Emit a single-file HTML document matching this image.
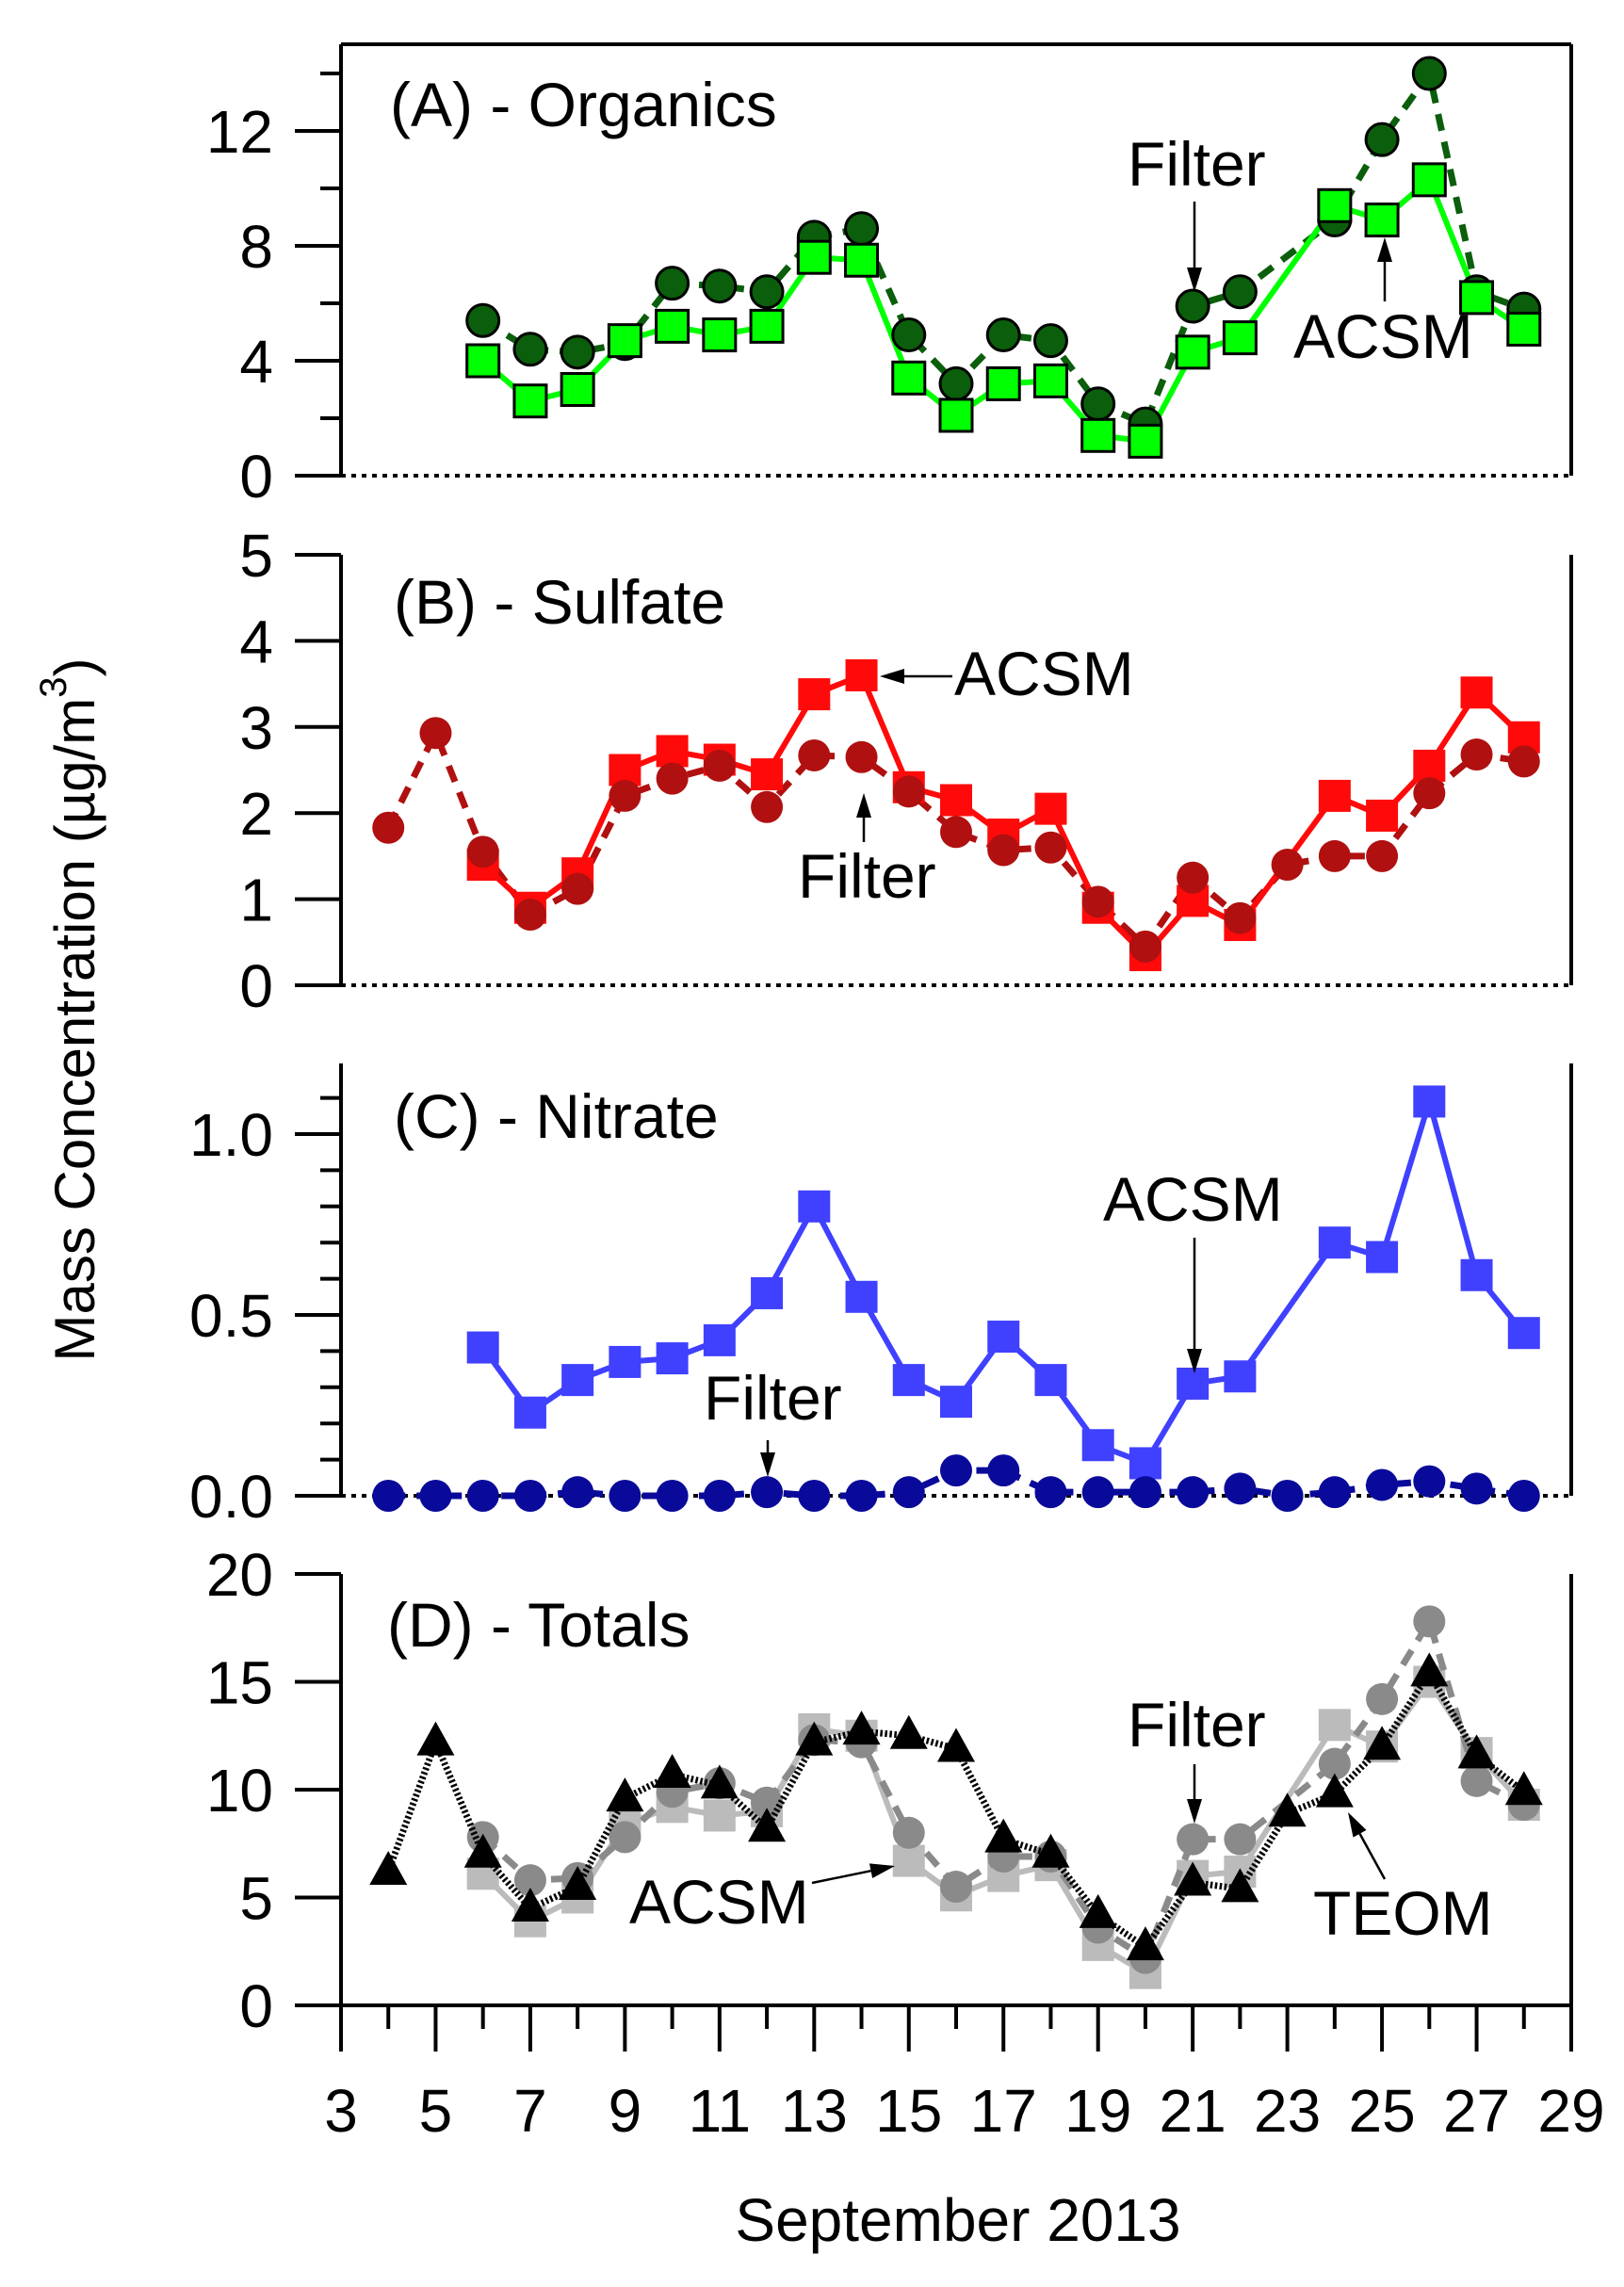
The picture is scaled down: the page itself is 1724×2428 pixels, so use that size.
<!DOCTYPE html>
<html><head><meta charset="utf-8"><style>
html,body{margin:0;padding:0;background:#fff;}
svg{display:block;font-family:"Liberation Sans",Arial,sans-serif;}
</style></head><body>
<svg id="chart" width="1724" height="2428" viewBox="0 0 1724 2428" xmlns="http://www.w3.org/2000/svg"></svg>
<script>
// ---- data ----
const daysA = [6,7,8,9,10,11,12,13,14,15,16,17,18,19,20,21,22,24,25,26,27,28];
const orgFilter = [5.4,4.4,4.3,4.6,6.7,6.6,6.4,8.3,8.6,4.9,3.2,4.9,4.7,2.5,1.8,5.9,6.4,8.9,11.7,14.0,6.4,5.8];
const orgAcsm = [4.0,2.6,3.0,4.7,5.2,4.9,5.2,7.6,7.5,3.4,2.1,3.2,3.3,1.4,1.2,4.3,4.8,9.4,8.9,10.3,6.2,5.1];
const daysFilterAll = [4,5,6,7,8,9,10,11,12,13,14,15,16,17,18,19,20,21,22,23,24,25,26,27,28];
const sulFilter = [1.83,2.93,1.55,0.82,1.12,2.2,2.4,2.55,2.07,2.67,2.65,2.25,1.78,1.57,1.6,0.97,0.45,1.25,0.78,1.4,1.5,1.5,2.23,2.68,2.6];
const sulAcsm = [1.4,0.9,1.3,2.5,2.72,2.62,2.45,3.38,3.6,2.3,2.15,1.75,2.05,0.9,0.35,0.98,0.7,2.2,1.97,2.55,3.4,2.88];
const nitAcsm = [0.41,0.23,0.32,0.37,0.38,0.43,0.56,0.80,0.55,0.32,0.26,0.44,0.32,0.14,0.09,0.31,0.33,0.70,0.66,1.09,0.61,0.45];
const nitFilter = [0,0,0,0,0.01,0,0,0,0.01,0,0,0.01,0.07,0.07,0.01,0.01,0.01,0.01,0.02,0,0.01,0.03,0.04,0.02,0];
const totTeom = [6.2,12.2,7.0,4.5,5.5,9.6,10.7,10.2,8.2,12.2,12.7,12.5,11.9,7.7,7.0,4.2,2.7,5.7,5.4,8.9,9.8,12.0,15.4,11.6,9.9];
const totFilter = [7.8,5.8,5.9,7.8,9.9,10.3,9.4,12.3,12.2,8.0,5.5,6.9,6.9,3.6,2.2,7.7,7.7,11.2,14.2,17.8,10.4,9.3];
const totAcsm = [6.1,3.9,5.0,8.4,9.2,8.8,9.0,12.8,12.5,6.7,5.1,6.0,6.5,2.8,1.5,6.0,6.2,13.0,12.0,15.0,11.7,9.3];
const xTicks = [3,5,7,9,11,13,15,17,19,21,23,25,27,29];
const ticksA = [0,4,8,12], ticksB=[0,1,2,3,4,5], ticksC=[0.0,0.5,1.0], ticksD=[0,5,10,15,20];

const NS="http://www.w3.org/2000/svg";
const svg=document.getElementById('chart');
const X0=362,X1=1668;
const xs=d=>X0+(d-3)*(X1-X0)/26;
function el(tag,attrs,parent){const e=document.createElementNS(NS,tag);for(const k in attrs)e.setAttribute(k,attrs[k]);(parent||svg).appendChild(e);return e;}
function txt(s,x,y,anchor,size,parent){const t=el('text',{x:x,y:y,'text-anchor':anchor||'start','font-size':size||64,fill:'#000'},parent);t.textContent=s;return t;}

const panels={
 A:{top:47,zero:505,y0:0,yv:12,yp:139,ticks:ticksA,minor:[2,6,10,14],fmt:v=>String(v),box:true,dotted:true},
 B:{top:589,zero:1046,y0:0,yv:5,yp:589,ticks:ticksB,minor:[],fmt:v=>String(v),dotted:true},
 C:{top:1129,zero:1588,y0:0,yv:0.5,yp:1396,ticks:ticksC,minor:[0.1,0.2,0.3,0.4,0.6,0.7,0.8,0.9,1.1],fmt:v=>v.toFixed(1),dotted:true},
 D:{top:1671,zero:2129,y0:0,yv:20,yp:1671,ticks:ticksD,minor:[],fmt:v=>String(v),dotted:false}
};
for(const k in panels){const p=panels[k];p.ys=v=>p.zero+(v-p.y0)*(p.yp-p.zero)/(p.yv-p.y0);}

function drawAxes(key,name){
 const p=panels[key];
 const g=el('g',{});
 
 
 el('line',{x1:X0,y1:p.top,x2:X0,y2:p.zero,stroke:'#000','stroke-width':4},g);
 el('line',{x1:X1,y1:p.top,x2:X1,y2:p.zero,stroke:'#000','stroke-width':4},g);
 if(p.box) el('line',{x1:X0,y1:p.top,x2:X1,y2:p.top,stroke:'#000','stroke-width':4},g);
 if(p.dotted) el('line',{x1:X0,y1:p.zero,x2:X1,y2:p.zero,stroke:'#000','stroke-width':4,'stroke-dasharray':'5 6'},g);
 else el('line',{x1:X0,y1:p.zero,x2:X1,y2:p.zero,stroke:'#000','stroke-width':4},g);
 p.ticks.forEach(v=>{const y=p.ys(v);el('line',{x1:313,y1:y,x2:X0,y2:y,stroke:'#000','stroke-width':4},g);
  const t=txt(p.fmt(v),290,y+23,'end',64,g);});
 p.minor.forEach(v=>{const y=p.ys(v);el('line',{x1:340,y1:y,x2:X0,y2:y,stroke:'#000','stroke-width':4},g);});
}
function drawLine(name,days,vals,p,color,width,dash){
 const pts=days.map((d,i)=>xs(d)+','+p.ys(vals[i])).join(' ');
 const l=el('polyline',{points:pts,fill:'none',stroke:color,'stroke-width':width,'stroke-linejoin':'round'});
 if(dash) l.setAttribute('stroke-dasharray',dash);
 
 
}
function drawMarkers(name,shape,days,vals,p,fill,stroke){
 const g=el('g',{});
 
 
 days.forEach((d,i)=>{const x=xs(d),y=p.ys(vals[i]);let m;
  const sa=stroke?{stroke:stroke,'stroke-width':3}:{};
  if(shape==='sq') m=el('rect',Object.assign({x:x-17,y:y-17,width:34,height:34,fill:fill},sa),g);
  else if(shape==='ci') m=el('circle',Object.assign({cx:x,cy:y,r:17,fill:fill},sa),g);
  else m=el('polygon',Object.assign({points:`${x},${y-22} ${x+20},${y+14} ${x-20},${y+14}`,fill:fill},sa),g);
  
  
 });
}
function arrow(x1,y1,x2,y2,name){
 const g=el('g',{});
 
 
 const dx=x2-x1,dy=y2-y1,L=Math.hypot(dx,dy),ux=dx/L,uy=dy/L,hl=26,hw=8;
 el('line',{x1:x1,y1:y1,x2:x2-ux*hl,y2:y2-uy*hl,stroke:'#000','stroke-width':2.5},g);
 el('polygon',{points:`${x2},${y2} ${x2-ux*hl-uy*hw},${y2-uy*hl+ux*hw} ${x2-ux*hl+uy*hw},${y2-uy*hl-ux*hw}`,fill:'#000'},g);
}
function label(s,x,y,name){const t=txt(s,x,y,'start',66);}

// Panel A
drawAxes('A','organics');
drawLine('organics-filter',daysA,orgFilter,panels.A,'#0b5e0b',7,'18 12');
drawLine('organics-acsm',daysA,orgAcsm,panels.A,'#00ff00',6);
drawMarkers('organics-filter','ci',daysA,orgFilter,panels.A,'#0b5e0b','#000');
drawMarkers('organics-acsm','sq',daysA,orgAcsm,panels.A,'#00ff00','#000');
label('(A) - Organics',414,134,'panel-a-title');
label('Filter',1197,197,'organics-filter-label'); arrow(1268,214,1268,310,'organics-filter-arrow');
label('ACSM',1373,380,'organics-acsm-label'); arrow(1470,320,1470,252,'organics-acsm-arrow');

// Panel B
drawAxes('B','sulfate');
drawLine('sulfate-filter',daysFilterAll,sulFilter,panels.B,'#b01010',7,'18 12');
drawLine('sulfate-acsm',daysA,sulAcsm,panels.B,'#ff0a0a',6);
drawMarkers('sulfate-acsm','sq',daysA,sulAcsm,panels.B,'#ff0a0a');
drawMarkers('sulfate-filter','ci',daysFilterAll,sulFilter,panels.B,'#b01010');
label('(B) - Sulfate',418,662,'panel-b-title');
label('ACSM',1013,738,'sulfate-acsm-label'); arrow(1011,718,934,718,'sulfate-acsm-arrow');
label('Filter',847,953,'sulfate-filter-label'); arrow(917,894,917,842,'sulfate-filter-arrow');

// Panel C
drawAxes('C','nitrate');
drawLine('nitrate-filter',daysFilterAll,nitFilter,panels.C,'#0a0a9a',7,'18 12');
drawLine('nitrate-acsm',daysA,nitAcsm,panels.C,'#4040ff',6);
drawMarkers('nitrate-acsm','sq',daysA,nitAcsm,panels.C,'#4040ff');
drawMarkers('nitrate-filter','ci',daysFilterAll,nitFilter,panels.C,'#0a0a9a');
label('(C) - Nitrate',418,1208,'panel-c-title');
label('ACSM',1171,1296,'nitrate-acsm-label'); arrow(1268,1314,1268,1458,'nitrate-acsm-arrow');
label('Filter',747,1507,'nitrate-filter-label'); arrow(815,1529,815,1568,'nitrate-filter-arrow');

// Panel D
drawAxes('D','totals');
drawLine('totals-acsm',daysA,totAcsm,panels.D,'#bbbbbb',6);
drawMarkers('totals-acsm','sq',daysA,totAcsm,panels.D,'#bbbbbb');
drawLine('totals-filter',daysA,totFilter,panels.D,'#8a8a8a',7,'18 12');
drawMarkers('totals-filter','ci',daysA,totFilter,panels.D,'#8a8a8a');
drawLine('totals-teom',daysFilterAll,totTeom,panels.D,'#000',7,'2.5 2.5');
drawMarkers('totals-teom','tri',daysFilterAll,totTeom,panels.D,'#000');
label('(D) - Totals',411,1748,'panel-d-title');
label('Filter',1197,1854,'totals-filter-label'); arrow(1268,1873,1268,1936,'totals-filter-arrow');
label('ACSM',668,2042,'totals-acsm-label'); arrow(862,1999,950,1981,'totals-acsm-arrow');
label('TEOM',1394,2054,'totals-teom-label'); arrow(1470,1995,1431,1924,'totals-teom-arrow');

// X axis ticks
const xg=el('g',{});


for(let d=3;d<=29;d++){const x=xs(d);el('line',{x1:x,y1:2129,x2:x,y2:(d%2?2178:2154),stroke:'#000','stroke-width':4},xg);}
xTicks.forEach(d=>{const t=txt(String(d),xs(d),2263,'middle',64,xg);});
const xl=txt('September 2013',1017,2379,'middle',64);


const yl=el('text',{transform:'translate(100,1072) rotate(-90)','text-anchor':'middle','font-size':60,fill:'#000'});


yl.innerHTML='Mass Concentration (µg/m<tspan dy="-30" font-size="40">3</tspan><tspan dy="30">)</tspan>';
</script>
</body></html>
